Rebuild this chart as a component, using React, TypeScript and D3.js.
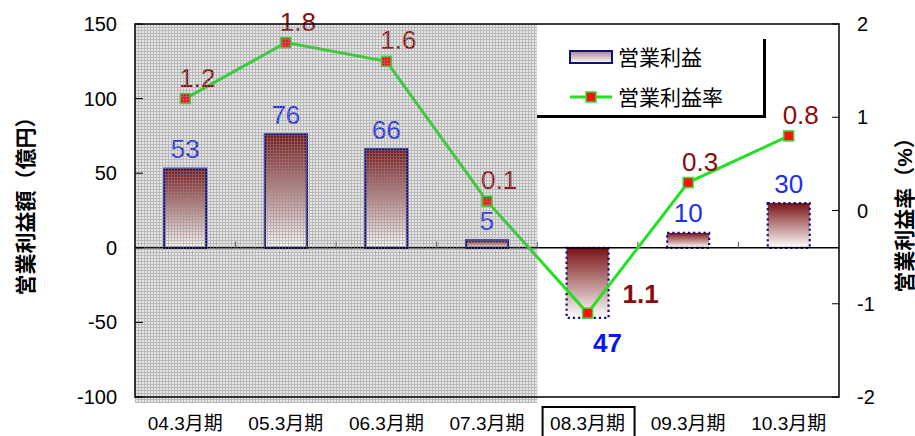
import React from 'react';
import * as d3 from 'd3';

// Operating profit (億円) and operating margin (%) by fiscal year
const categories = ['04.3月期', '05.3月期', '06.3月期', '07.3月期', '08.3月期', '09.3月期', '10.3月期'];
const profit = [53, 76, 66, 5, -47, 10, 30];
const margin = [1.2, 1.8, 1.6, 0.1, -1.1, 0.3, 0.8];
const leftTicks = [-100, -50, 0, 50, 100, 150];
const rightTicks = [-2, -1, 0, 1, 2];
const actualYears = 4; // first years are results (shaded, solid bar outline)
const highlightYear = '08.3月期';
const legendLabels = ['営業利益', '営業利益率'];
const leftTitle = '営業利益額（億円）';
const rightTitle = '営業利益率（%）';

const W = 915;
const H = 436;
const plot = { left: 135, right: 839, top: 24, bottom: 397 };
const FONT = "'Liberation Sans', Arial, 'Noto Sans CJK JP', sans-serif";
const BAR_W = 42;

export default function App() {
  const x = d3.scaleBand<string>().domain(categories).range([plot.left, plot.right]).padding(0);
  const yL = d3.scaleLinear().domain([-100, 150]).range([plot.bottom, plot.top]);
  const yR = d3.scaleLinear().domain([-2, 2]).range([plot.bottom, plot.top]);
  const cx = (c: string) => (x(c) as number) + x.bandwidth() / 2;

  const line = d3
    .line<number>()
    .x((_, i) => cx(categories[i]))
    .y((d) => yR(d));

  const shadeRight = x(categories[actualYears]) as number;
  const zeroY = yL(0);

  return (
    <svg width={W} height={H} style={{ position: 'absolute', left: 0, top: 0 }} fontFamily={FONT}>
      <defs>
        <linearGradient id="barGrad" x1="0" y1="0" x2="0" y2="1">
          <stop offset="0%" stopColor="#7a1214" />
          <stop offset="100%" stopColor="#ffffff" />
        </linearGradient>
        <linearGradient id="swatchGrad" x1="0" y1="0" x2="0" y2="1">
          <stop offset="0%" stopColor="#a88488" />
          <stop offset="100%" stopColor="#ffffff" />
        </linearGradient>
        <pattern id="hatch" width="3" height="3" patternUnits="userSpaceOnUse">
          <path d="M0 0.5H3M0.5 0V3" stroke="#8c8c8c" strokeWidth="1" opacity="0.5" />
        </pattern>
      </defs>

      <rect x={0} y={0} width={W} height={H} fill="#ffffff" />

      {/* shaded background for result years */}
      <rect x={plot.left} y={plot.top} width={shadeRight - plot.left} height={plot.bottom - plot.top + 6} fill="#e6e6e6" />

      {/* bars */}
      {profit.map((v, i) => {
        const c = categories[i];
        const y0 = Math.min(yL(v), zeroY);
        const h = Math.abs(yL(v) - zeroY);
        const actual = i < actualYears;
        return (
          <rect
            key={c}
            x={cx(c) - BAR_W / 2}
            y={y0}
            width={BAR_W}
            height={h}
            fill="url(#barGrad)"
            stroke="#101080"
            strokeWidth={2.2}
            strokeDasharray={actual ? undefined : '2.2 3'}
          />
        );
      })}

      {/* zero line and category ticks */}
      <line x1={plot.left} x2={plot.right} y1={zeroY} y2={zeroY} stroke="#000" strokeWidth={1.5} />
      {categories.slice(1).map((c) => (
        <line key={c} x1={x(c) as number} x2={x(c) as number} y1={zeroY} y2={zeroY - 6} stroke="#555" strokeWidth={1} />
      ))}

      {/* margin line */}
      <path d={line(margin) || ''} fill="none" stroke="#22e022" strokeWidth={3} />
      {margin.map((v, i) => (
        <rect
          key={categories[i]}
          x={cx(categories[i]) - 5}
          y={yR(v) - 5}
          width={10}
          height={10}
          fill="#ff1010"
          stroke="#33dd33"
          strokeWidth={1.5}
        />
      ))}

      {/* bar value labels */}
      {profit.map((v, i) => {
        const c = categories[i];
        const neg = v < 0;
        return (
          <text
            key={c}
            x={cx(c) + (neg ? 20 : 0)}
            y={neg ? yL(v) + 34 : yL(v) - 10.5}
            textAnchor="middle"
            fontSize={26}
            fontWeight={neg ? 'bold' : 'normal'}
            fill={neg ? '#0a18f0' : '#1f2ff0'}
          >
            {Math.abs(v)}
          </text>
        );
      })}

      {/* margin value labels */}
      {margin.map((v, i) => {
        const c = categories[i];
        const neg = v < 0;
        return (
          <text
            key={c}
            x={cx(c) + (neg ? 53 : 12)}
            y={yR(v) - (neg ? 10 : 12)}
            textAnchor="middle"
            fontSize={26}
            fontWeight={neg ? 'bold' : 'normal'}
            fill="#8a0c0c"
          >
            {Math.abs(v).toFixed(1)}
          </text>
        );
      })}

      {/* grid texture over result years */}
      <rect x={plot.left} y={plot.top} width={shadeRight - plot.left} height={plot.bottom - plot.top + 6} fill="url(#hatch)" />

      {/* frame */}
      <rect
        x={plot.left}
        y={plot.top}
        width={plot.right - plot.left}
        height={plot.bottom - plot.top}
        fill="none"
        stroke="#000"
        strokeWidth={1.5}
      />

      {/* left axis */}
      {leftTicks.map((t) => (
        <g key={t}>
          <line x1={plot.left} x2={plot.left + 8} y1={yL(t)} y2={yL(t)} stroke="#000" strokeWidth={1} />
          <text x={117} y={yL(t) + 7} textAnchor="end" fontSize={20} fill="#000">
            {t}
          </text>
        </g>
      ))}

      {/* right axis */}
      {rightTicks.map((t) => (
        <g key={t}>
          <line x1={plot.right - 7} x2={plot.right} y1={yR(t)} y2={yR(t)} stroke="#000" strokeWidth={1} />
          <text x={857} y={yR(t) + 7} textAnchor="start" fontSize={20} fill="#000">
            {t}
          </text>
        </g>
      ))}

      {/* category labels */}
      {categories.map((c) => (
        <g key={c}>
          {c === highlightYear && (
            <rect x={cx(c) - 45} y={407} width={92} height={34} fill="#fff" stroke="#000" strokeWidth={2} />
          )}
          <text x={cx(c)} y={430} textAnchor="middle" fontSize={19} fill="#000">
            {c}
          </text>
        </g>
      ))}

      {/* axis titles */}
      <text
        transform="translate(33,201) rotate(-90)"
        textAnchor="middle"
        fontSize={21}
        fontWeight="bold"
        fill="#000"
      >
        {leftTitle}
      </text>
      <text
        transform="translate(912,210) rotate(-90)"
        textAnchor="middle"
        fontSize={21}
        fontWeight="bold"
        fill="#000"
      >
        {rightTitle}
      </text>

      {/* legend */}
      <g>
        <rect x={537} y={plot.top + 1} width={226} height={90} fill="#fff" />
        <rect x={763} y={39} width={3} height={79} fill="#000" />
        <rect x={537} y={115} width={229} height={3} fill="#000" />
        <rect x={570} y={51} width={42} height={12} fill="url(#swatchGrad)" stroke="#101080" strokeWidth={2} />
        <text x={618} y={65} fontSize={21} fill="#000">
          {legendLabels[0]}
        </text>
        <line x1={570} x2={612} y1={97} y2={97} stroke="#22e022" strokeWidth={3} />
        <rect x={586} y={92} width={10} height={10} fill="#ff1010" stroke="#33dd33" strokeWidth={1.5} />
        <text x={618} y={105} fontSize={21} fill="#000">
          {legendLabels[1]}
        </text>
      </g>
    </svg>
  );
}
